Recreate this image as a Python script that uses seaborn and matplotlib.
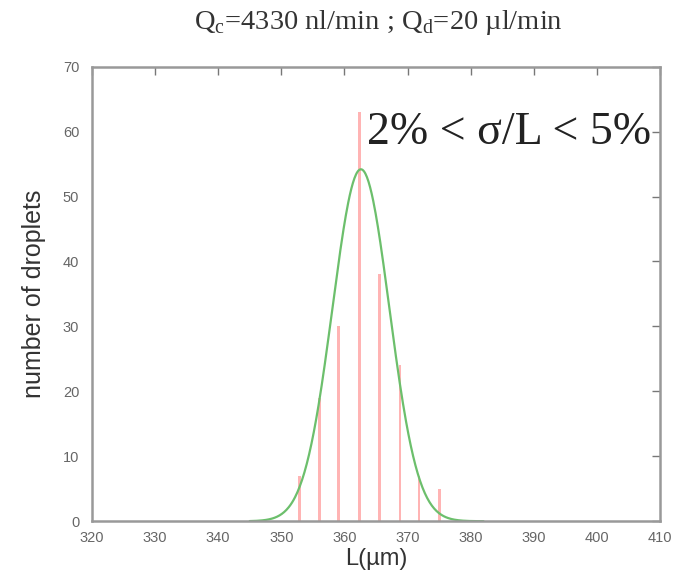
import numpy as np
import pandas as pd
import seaborn as sns
from matplotlib import pyplot as plt

# droplet length histogram
lengths = [352.9, 356.0, 359.1, 362.4, 365.6, 368.8, 371.8, 375.1]
counts = [7, 19, 30, 63, 38, 24, 7, 5]

# gaussian fit drawn over it
fit_mean = 362.6
fit_sigma = 4.5
fit_amp = 54.2

title = r"Q$_\mathrm{c}$=4330 nl/min ; Q$_\mathrm{d}$=20 µl/min"
note = "2% < σ/L < 5%"

sns.set_style("white")
plt.rcParams['font.family'] = ['Liberation Sans', 'DejaVu Sans']
plt.rcParams['mathtext.fontset'] = 'custom'
plt.rcParams['mathtext.rm'] = 'Liberation Serif'

hist = pd.DataFrame({'L': lengths, 'n': counts})
xs = np.linspace(345, 382, 300)
fit = pd.DataFrame({'L': xs, 'n': fit_amp * np.exp(-(xs - fit_mean) ** 2 / (2 * fit_sigma ** 2))})

fig = plt.figure(figsize=(6.85, 5.85), dpi=100)
ax = fig.add_axes([0.134, 0.109, 0.83, 0.777])

sns.barplot(data=hist, x='L', y='n', native_scale=True, width=0.15,
            color='#ffb4b4', saturation=1, linewidth=0, ax=ax)
sns.lineplot(data=fit, x='L', y='n', color='#6cbf6c', linewidth=1.6, ax=ax)

ax.set_xlim(320, 410)
ax.set_ylim(0, 70)
ax.set_xticks(range(320, 411, 10))
ax.set_yticks(range(0, 71, 10))
ax.tick_params(direction='in', length=6, width=1, colors='#777777',
               labelcolor='#666666', labelsize=10.5, top=True, right=True)
ax.tick_params(axis='x', pad=7)
ax.tick_params(axis='y', pad=9)
for s in ax.spines.values():
    s.set_color('#999999')
    s.set_linewidth(1.8)

ax.set_xlabel('L(µm)', fontsize=17, color='#333333', labelpad=2)
ax.set_ylabel('number of droplets', fontsize=18, color='#333333', labelpad=12)

ax.text(363.6, 59.8, note, fontsize=33, family=['Liberation Serif', 'DejaVu Serif'],
        color='#222222', va='center', ha='left')
fig.text(0.553, 0.962, title, fontsize=20.5, family=['Liberation Serif', 'DejaVu Serif'],
         color='#333333', ha='center', va='center')

fig.savefig('out.png', dpi=100)
